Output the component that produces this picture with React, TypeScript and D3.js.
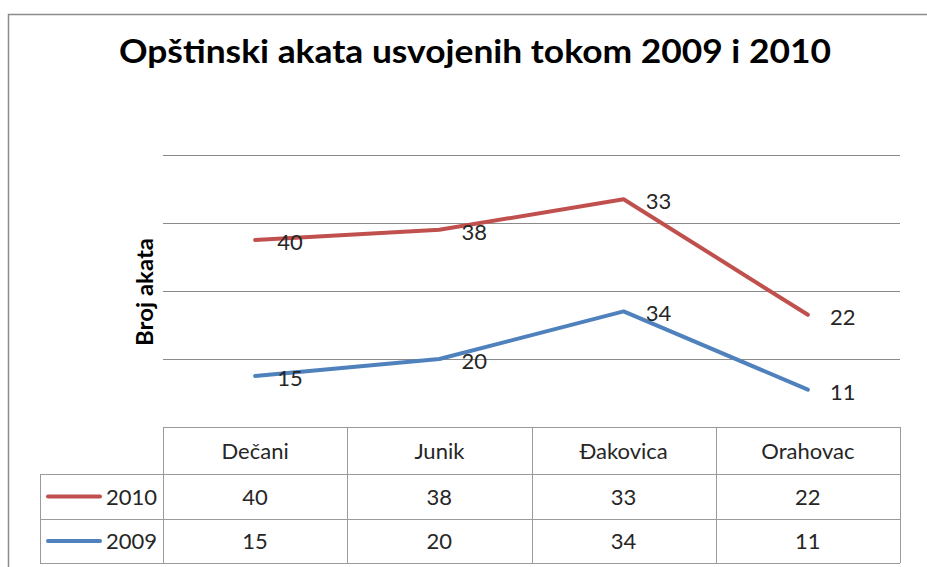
import React, { useEffect, useRef } from "react";
import * as d3 from "d3";

const categories = ["Dečani", "Junik", "Đakovica", "Orahovac"];
const seriesNames = ["2010", "2009"];
const values2010 = [40, 38, 33, 22];
const values2009 = [15, 20, 34, 11];
const gridTicks = [0, 20, 40, 60, 80];
const colors: Record<string, string> = { "2010": "#C0504D", "2009": "#4F81BD" };

export default function App() {
  const ref = useRef<SVGSVGElement>(null);
  useEffect(() => {
    const svg = d3.select(ref.current);
    svg.selectAll("*").remove();
    const W = 927, H = 567;
    const left = 163, right = 900, top = 155, bottom = 427;
    const x = d3.scaleBand<string>().domain(categories).range([left, right]);
    const y = d3.scaleLinear().domain([0, 80]).range([bottom, top]);
    const font = "Lato, 'Open Sans', sans-serif";
    const fs = 22;

    svg.append("rect").attr("width", W).attr("height", H).attr("fill", "#fff");
    // outer frame
    svg.append("rect").attr("x", 8.5).attr("y", 14.5).attr("width", W + 20).attr("height", H + 20)
      .attr("fill", "none").attr("stroke", "#8c8c8c").attr("stroke-width", 1.5);

    // title
    svg.append("text").attr("x", 475).attr("y", 63).attr("text-anchor", "middle")
      .attr("font-family", font).attr("font-weight", "bold")
      .attr("font-size", 32).attr("fill", "#000")
      .attr("textLength", 712).attr("lengthAdjust", "spacingAndGlyphs")
      .text("Opštinski akata usvojenih tokom 2009 i 2010");

    // y axis title
    svg.append("text").attr("transform", "translate(153,292) rotate(-90)")
      .attr("text-anchor", "middle").attr("font-family", font).attr("font-weight", "bold")
      .attr("font-size", 22).attr("fill", "#000")
      .attr("textLength", 108).attr("lengthAdjust", "spacingAndGlyphs")
      .text("Broj akata");

    // gridlines
    svg.append("g").selectAll("line").data(gridTicks.filter(t => t > 0)).join("line")
      .attr("x1", left).attr("x2", right)
      .attr("y1", d => Math.round(y(d)) + 0.5).attr("y2", d => Math.round(y(d)) + 0.5)
      .attr("stroke", "#8a8a8a").attr("stroke-width", 1);

    // stacked lines
    const stacked2009 = values2009;
    const stacked2010 = values2010.map((v, i) => v + values2009[i]);
    const series = [
      { name: "2010", raw: values2010, pos: stacked2010 },
      { name: "2009", raw: values2009, pos: stacked2009 },
    ];
    const line = d3.line<number>()
      .x((_, i) => (x(categories[i]) as number) + x.bandwidth() / 2)
      .y(d => y(d));
    series.forEach(s => {
      svg.append("path").attr("d", line(s.pos) as string).attr("fill", "none")
        .attr("stroke", colors[s.name]).attr("stroke-width", 4)
        .attr("stroke-linejoin", "round").attr("stroke-linecap", "round");
    });
    series.forEach(s => {
      svg.append("g").selectAll("text").data(s.pos).join("text")
        .attr("x", (_, i) => (x(categories[i]) as number) + x.bandwidth() / 2 + 22)
        .attr("y", d => y(d) + 10)
        .attr("font-family", font).attr("font-size", fs).attr("fill", "#262626")
        .text((_, i) => String(s.raw[i]));
    });

    // data table
    const rowTop = [427, 474, 519, 563];
    const tableLeft = 40;
    const g = svg.append("g");
    const stroke = "#9a9a9a";
    g.append("line").attr("x1", left).attr("x2", right).attr("y1", rowTop[0] + 0.5).attr("y2", rowTop[0] + 0.5).attr("stroke", stroke);
    [1, 2, 3].forEach(r => {
      g.append("line").attr("x1", tableLeft).attr("x2", right).attr("y1", rowTop[r] + 0.5).attr("y2", rowTop[r] + 0.5).attr("stroke", stroke);
    });
    g.append("line").attr("x1", tableLeft + 0.5).attr("x2", tableLeft + 0.5).attr("y1", rowTop[1]).attr("y2", rowTop[3]).attr("stroke", stroke);
    const colEdges = [left, ...categories.map(c => (x(c) as number) + x.bandwidth())];
    colEdges.forEach(cx => {
      g.append("line").attr("x1", Math.round(cx) + 0.5).attr("x2", Math.round(cx) + 0.5)
        .attr("y1", rowTop[0]).attr("y2", rowTop[3]).attr("stroke", stroke);
    });
    g.selectAll("text.cat").data(categories).join("text").attr("class", "cat")
      .attr("x", d => (x(d) as number) + x.bandwidth() / 2).attr("y", 459)
      .attr("text-anchor", "middle").attr("font-family", font).attr("font-size", fs).attr("fill", "#262626")
      .text(d => d);
    const rows = [values2010, values2009];
    const rowBase = [505, 549];
    rows.forEach((vals, r) => {
      const cy = (rowTop[r + 1] + rowTop[r + 2]) / 2;
      g.append("g").selectAll("text").data(vals).join("text")
        .attr("x", (_, i) => (x(categories[i]) as number) + x.bandwidth() / 2).attr("y", rowBase[r])
        .attr("text-anchor", "middle").attr("font-family", font).attr("font-size", fs).attr("fill", "#262626")
        .text(d => String(d));
      g.append("line").attr("x1", 48).attr("x2", 100).attr("y1", cy).attr("y2", cy)
        .attr("stroke", colors[seriesNames[r]]).attr("stroke-width", 4).attr("stroke-linecap", "round");
      g.append("text").attr("x", 157).attr("y", rowBase[r]).attr("text-anchor", "end")
        .attr("font-family", font).attr("font-size", fs).attr("fill", "#262626").text(seriesNames[r]);
    });
  }, []);
  return (
    <svg ref={ref} width={927} height={567} style={{ position: "absolute", left: 0, top: 0 }} />
  );
}
